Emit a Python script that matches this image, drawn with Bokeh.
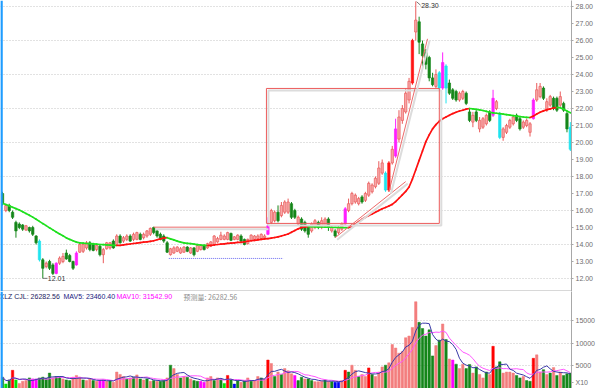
import pandas as pd
from bokeh.plotting import figure
from bokeh.layouts import column
from bokeh.models import Range1d, FixedTicker, PrintfTickFormatter, Span, ColumnDataSource
from bokeh.core.properties import value
from bokeh.embed import file_html
from bokeh.resources import INLINE

# ---------------- data ----------------
opens = [17.0, 16.0, 16.3, 15.9, 15.3, 15.2, 15.15, 14.85, 15.0, 15.0,
         14.5, 14.2, 13.1, 12.7, 13.0, 12.8, 12.3, 12.9, 13.0, 13.5,
         13.35, 13.0, 12.8, 13.55, 13.6, 13.8, 14.1, 14.0, 13.7, 13.9,
         13.4, 13.75, 13.8, 14.2, 14.0, 14.5, 14.2, 14.3, 14.5, 14.3,
         14.3, 14.6, 14.4, 14.5, 14.6, 15.0, 14.8, 14.6, 14.5, 14.1,
         13.4, 13.5, 13.6, 13.5, 13.55, 13.85, 13.5, 13.8, 13.6, 13.7,
         13.95, 13.8, 13.9, 14.0, 14.15, 14.3, 14.3, 14.3, 14.65, 14.3,
         14.3, 14.5, 14.3, 14.05, 14.25, 14.3, 14.35, 14.35, 14.4, 14.6,
         15.3, 15.4, 15.9, 15.7, 15.9, 15.9, 16.4, 16.0, 15.2, 15.5,
         15.3, 15.1, 14.8, 15.0, 15.3, 15.0, 15.1, 15.5, 14.8, 14.8,
         14.7, 14.9, 15.2, 16.0, 16.4, 16.5, 16.4, 16.8, 16.6, 16.9,
         17.1, 17.4, 17.6, 18.2, 18.2, 17.2, 18.8, 19.2, 20.2, 21.3,
         21.8, 22.5, 23.5, 26.5, 27.1, 25.8, 25.3, 25.0, 23.8, 23.3,
         24.1, 23.2, 24.5, 23.5, 23.1, 23.0, 22.5, 22.6, 22.9, 21.8,
         21.2, 21.8, 20.8, 20.9, 21.1, 21.8, 21.6, 22.0, 21.7, 20.3,
         20.6, 20.9, 21.1, 21.6, 21.4, 20.9, 21.0, 20.6, 21.4, 22.5,
         22.7, 23.2, 21.9, 22.2, 22.6, 22.6, 22.2, 22.3, 21.7, 20.9]
highs = [17.1, 16.4, 16.4, 16.0, 15.4, 15.3, 15.2, 15.15, 15.05, 15.1,
         14.55, 14.3, 13.2, 13.0, 13.1, 12.9, 12.95, 13.3, 13.5, 13.7,
         13.45, 13.05, 13.6, 14.1, 14.1, 14.2, 14.2, 14.1, 14.0, 14.0,
         13.8, 14.15, 14.15, 14.3, 14.6, 14.6, 14.5, 14.6, 14.6, 14.7,
         14.75, 14.7, 14.7, 14.85, 15.0, 15.05, 14.9, 14.7, 14.6, 14.2,
         13.8, 13.9, 13.9, 13.85, 13.9, 13.9, 13.85, 13.85, 14.0, 14.0,
         14.0, 14.1, 14.2, 14.55, 14.45, 14.75, 14.6, 14.75, 14.7, 14.5,
         14.6, 14.6, 14.35, 14.35, 14.6, 14.55, 14.6, 14.65, 14.6, 15.6,
         16.1, 16.0, 16.3, 16.5, 16.6, 16.7, 16.5, 16.1, 15.7, 15.6,
         15.4, 15.15, 15.3, 15.5, 15.4, 15.6, 15.6, 15.6, 15.1, 14.9,
         15.1, 15.3, 16.2, 16.7, 17.1, 17.0, 16.8, 16.9, 17.1, 17.7,
         17.6, 18.0, 18.9, 19.0, 18.3, 18.9, 19.8, 21.4, 21.9, 22.2,
         23.2, 23.8, 26.1, 28.3, 27.4, 26.0, 25.5, 25.1, 24.1, 24.3,
         24.2, 25.3, 24.6, 23.7, 23.2, 23.1, 23.0, 23.1, 23.0, 22.0,
         21.8, 21.9, 21.5, 21.5, 21.7, 21.9, 23.1, 22.5, 21.8, 20.9,
         21.1, 21.4, 21.6, 21.7, 21.5, 21.3, 21.4, 21.2, 22.6, 23.5,
         23.5, 23.3, 22.6, 22.8, 22.7, 22.7, 23.0, 22.4, 21.8, 21.2]
lows = [16.3, 15.9, 15.9, 15.5, 14.4, 14.9, 14.8, 14.8, 14.7, 14.5,
        14.0, 13.0, 12.01, 12.6, 12.5, 12.2, 12.25, 12.8, 12.9, 13.1,
        12.95, 12.5, 12.75, 13.5, 13.5, 13.7, 13.6, 13.6, 13.6, 13.3,
        12.9, 13.7, 13.7, 13.75, 13.95, 14.05, 14.1, 14.2, 14.15, 14.2,
        14.25, 14.25, 14.3, 14.4, 14.5, 14.6, 14.4, 14.25, 14.1, 13.5,
        13.35, 13.45, 13.55, 13.45, 13.5, 13.55, 13.45, 13.3, 13.55, 13.65,
        13.65, 13.75, 13.85, 13.95, 14.1, 14.25, 14.25, 14.25, 14.2, 14.25,
        14.25, 14.15, 13.95, 14.0, 14.2, 14.25, 14.3, 14.3, 14.35, 14.55,
        15.2, 15.3, 15.3, 15.6, 15.8, 15.8, 15.5, 15.5, 15.1, 14.8,
        14.7, 14.4, 14.7, 14.9, 14.9, 14.9, 15.0, 14.8, 14.7, 14.4,
        14.6, 14.8, 15.15, 15.9, 16.3, 16.4, 16.3, 16.4, 16.5, 16.8,
        17.0, 17.3, 17.5, 18.1, 17.1, 17.1, 18.7, 19.1, 20.0, 21.1,
        21.7, 22.3, 23.4, 26.0, 25.2, 24.3, 24.3, 23.6, 23.3, 23.2,
        23.1, 23.1, 22.3, 22.8, 22.5, 22.4, 22.4, 22.5, 22.2, 21.2,
        20.9, 21.2, 20.6, 20.8, 21.0, 21.2, 21.5, 21.9, 20.2, 20.1,
        20.5, 20.8, 21.0, 21.2, 20.7, 20.8, 20.9, 20.35, 21.35, 22.4,
        22.6, 22.5, 21.8, 22.1, 21.9, 21.8, 22.1, 21.8, 20.6, 19.5]
closes = [16.4, 16.3, 16.0, 15.6, 14.8, 15.0, 14.9, 15.1, 14.8, 14.6,
          14.1, 13.1, 12.6, 12.9, 12.6, 12.3, 12.9, 13.2, 13.3, 13.15,
          13.0, 12.6, 13.5, 14.0, 14.0, 14.1, 13.7, 13.65, 13.95, 13.4,
          13.7, 14.1, 14.1, 13.8, 14.5, 14.1, 14.4, 14.5, 14.2, 14.6,
          14.7, 14.3, 14.6, 14.8, 14.95, 14.7, 14.5, 14.3, 14.2, 13.55,
          13.75, 13.8, 13.85, 13.75, 13.85, 13.6, 13.8, 13.4, 13.95, 13.95,
          13.7, 14.05, 14.15, 14.5, 14.35, 14.55, 14.5, 14.7, 14.25, 14.45,
          14.55, 14.2, 14.0, 14.3, 14.55, 14.5, 14.5, 14.6, 14.5, 15.1,
          16.0, 15.9, 15.4, 16.3, 16.5, 16.5, 15.6, 15.6, 15.6, 14.9,
          14.8, 14.6, 15.2, 15.4, 15.0, 15.4, 15.5, 15.0, 15.0, 14.5,
          15.0, 15.2, 16.1, 16.4, 17.0, 16.9, 16.7, 16.5, 17.0, 17.6,
          17.5, 17.9, 18.5, 18.8, 17.2, 18.8, 19.6, 20.8, 21.5, 22.0,
          22.9, 23.6, 26.0, 27.2, 25.9, 25.1, 24.6, 23.8, 23.4, 24.0,
          23.2, 24.7, 23.2, 22.9, 22.6, 22.5, 22.9, 23.0, 22.3, 21.3,
          21.6, 21.3, 21.3, 21.4, 21.6, 21.3, 22.6, 22.4, 20.3, 20.8,
          21.0, 21.3, 21.5, 21.3, 20.8, 21.2, 21.3, 21.1, 22.5, 23.1,
          23.3, 22.6, 22.4, 22.7, 22.0, 21.9, 22.7, 21.9, 20.8, 19.6]
# candle colour class: u = up, d = down, m = magenta, c = cyan, r = solid red
candle_kind = list(
    "dudddddudd" "dcduddmuud" "ddmuuuddud" "uuududuudu" "uduuuddddd"
    "uuuuududuu" "duuuuuuudu" "udduuuuuum" "uuduuuddud" "dduuduudud"
    "uumuuuuduu" "uuuucrumuu" "uurudddddu" "cmcddduudd" "uduuudmucu"
    "uuudduuumu" "uduudduddc")
ma_line = [16.42, 16.35, 16.27, 16.19, 16.11, 16.03, 15.93, 15.82, 15.72, 15.61,
           15.49, 15.36, 15.23, 15.11, 14.98, 14.86, 14.74, 14.62, 14.51, 14.39,
           14.30, 14.22, 14.14, 14.10, 14.08, 14.06, 14.05, 14.04, 14.02, 14.00,
           13.99, 13.98, 13.96, 13.95, 13.94, 13.95, 13.98, 14.01, 14.03, 14.06,
           14.08, 14.11, 14.14, 14.16, 14.18, 14.22, 14.28, 14.33, 14.38, 14.40,
           14.33, 14.27, 14.20, 14.14, 14.10, 14.07, 14.05, 14.02, 13.99, 13.97,
           13.95, 13.94, 13.95, 13.97, 14.00, 14.02, 14.04, 14.07, 14.08, 14.10,
           14.12, 14.13, 14.16, 14.19, 14.22, 14.24, 14.27, 14.30, 14.33, 14.35,
           14.38, 14.41, 14.45, 14.50, 14.56, 14.62, 14.72, 14.82, 14.92, 15.00,
           15.04, 15.05, 15.045, 15.04, 15.035, 15.03, 15.025, 15.02, 15.015, 15.01,
           15.005, 15.00, 14.995, 14.99, 15.08, 15.20, 15.34, 15.48, 15.60, 15.70,
           15.80, 15.90, 16.00, 16.10, 16.18, 16.26, 16.36, 16.52, 16.72, 16.92,
           17.12, 17.38, 17.85, 18.40, 18.95, 19.50, 20.05, 20.45, 20.80, 21.05,
           21.25, 21.40, 21.50, 21.60, 21.70, 21.78, 21.85, 21.90, 21.96, 22.00,
           21.98, 21.95, 21.92, 21.88, 21.83, 21.78, 21.74, 21.72, 21.70, 21.67,
           21.64, 21.61, 21.58, 21.55, 21.52, 21.50, 21.48, 21.47, 21.55, 21.68,
           21.78, 21.86, 21.93, 21.98, 22.03, 22.06, 22.05, 21.95, 21.85, 21.75]
volumes = [2500, 1000, 1890, 4010, 1890, 1130, 1590, 1740, 2340, 2120,
           2120, 2340, 2500, 2200, 3400, 2340, 2650, 2650, 2120, 1890,
           1740, 2500, 2880, 2500, 1890, 1740, 2120, 1740, 1590, 1740,
           1890, 1590, 1740, 1360, 3630, 3100, 2650, 2120, 2340, 2500,
           3000, 2120, 1890, 2120, 1590, 1740, 1590, 1590, 1740, 2340,
           5145, 4390, 3100, 2340, 2650, 2500, 2120, 1740, 1590, 1590,
           1360, 2340, 2650, 1740, 2340, 2120, 1130, 2880, 1890, 980,
           1740, 1360, 1740, 2340, 1590, 1740, 2650, 2340, 2120, 6280,
           5520, 2650, 3630, 3100, 4400, 3900, 3250,
           2880, 1740, 2500, 2120, 2120, 1740, 1510, 1510, 1590, 1890,
           1590, 1510, 1360, 1360, 1740, 4010, 3630, 5145, 4010, 2650,
           3100, 2650, 4540, 3100, 2650, 3630, 4770, 5145, 5670, 9700,
           8930, 7790, 8170, 11200, 11580, 13470, 19140, 14600, 13240, 11580,
           12940, 7190, 9460, 10670, 14230, 10820, 6510, 6280, 5370, 4390,
           5370, 4390, 5300, 3400, 4770, 3100, 2340, 3630, 3100, 9310,
           4770, 5900, 3400, 3630, 3630, 3400, 2880, 2340, 2650, 1740,
           1590, 6660, 7420, 3630, 4160, 3100, 3400, 4620, 2880, 3630,
           2880, 3250, 3400]
# volume bar colour class: u up, d down, r red, m magenta, l lime, b blue
volume_kind = list(
    "dldrluuudm" "mdddduddud" "duuuduudum" "muduuuudud" "ududududdu"
    "duudududdm" "muududlrdb" "dududuudur" "ududuuu"
    "mddudduuud" "udbburduud" "uurduuuduu" "uuuuuuuddd" "ddududumdu"
    "udduduudur" "dduuuuddud" "druudududu" "ddd")

price_ticks = [12, 13, 14, 15, 16, 17, 18, 19, 20, 21, 22, 23, 24, 25, 26, 27, 28]
price_grid = [12, 14, 16, 18, 20, 22, 24, 26, 28]
volume_ticks = [5000, 10000, 15000]
unit_tick = 1300          # where the "X10" unit tag sits on the volume axis

# drawings on the chart (candle index, price)
box_left, box_right, box_top, box_bottom = 78.55, 130.0, 23.18, 15.24
level_line = ([45.0, 78.55], [15.02, 15.02])
blue_line = ([49.5, 83.5], [13.18, 13.18])
trend_a = ([99.0, 120.0], [14.40, 17.70])
trend_b = ([115.0, 126.5], [17.10, 26.10])
high_mark = (123, 28.30, "28.30")
low_mark = (12, 12.01, "12.01")

legend_parts = [("XLZ CJL: 26282.56", "#22225e"), ("MAV5: 23460.40", "#1a1a80"),
                ("MAV10: 31542.90", "#ff00ff"), ("预测量: 26282.56", "#8c8c8c")]

n = len(closes)
assert len(opens) == len(highs) == len(lows) == n == len(ma_line) == len(candle_kind)
assert len(volumes) == len(volume_kind) == n

# ---------------- styling ----------------
CANDLE_STYLE = {
    "u": ("#f7a7a7", "#ea5a5a"),
    "d": ("#15861a", "#15861a"),
    "m": ("#ff1eff", "#ff1eff"),
    "c": ("#1fe4ee", "#1fe4ee"),
    "r": ("#ff1414", "#ff1414"),
}
VOL_STYLE = {"u": "#f37d7d", "d": "#15861a", "r": "#ff0000", "m": "#ff00ff",
             "l": "#00e600", "b": "#0000ee"}
FONT = "Liberation Sans"
AXIS_TXT = "#6e6e6e"
AXIS_LINE = "#a8a8a8"

xs = list(range(n))
px_per_bar = 3.36
x_start = -2 / px_per_bar
x_end = (571 - 2) / px_per_bar
price_lo = 28 - (291 - 6) / 17.0
price_hi = 28 + 6 / 17.0

tops = [max(o, c) for o, c in zip(opens, closes)]
bots = [min(o, c) for o, c in zip(opens, closes)]
tops = [t if t - b >= 0.04 else b + 0.04 for t, b in zip(tops, bots)]
csrc = ColumnDataSource(dict(
    x=xs, h=highs, l=lows, top=tops, bot=bots,
    fill=[CANDLE_STYLE[k][0] for k in candle_kind],
    line=[CANDLE_STYLE[k][1] for k in candle_kind]))


def style_axis(axis, ticks, fmt):
    axis.ticker = FixedTicker(ticks=ticks)
    axis.formatter = PrintfTickFormatter(format=fmt)
    axis.major_label_text_font = FONT
    axis.major_label_text_font_size = "7px"
    axis.major_label_text_color = AXIS_TXT
    axis.axis_line_color = AXIS_LINE
    axis.major_tick_line_color = AXIS_LINE
    axis.major_tick_in = 0
    axis.major_tick_out = 2
    axis.minor_tick_line_color = None
    axis.major_label_standoff = 2


p1 = figure(width=600, height=291, x_range=Range1d(x_start, x_end),
            y_range=Range1d(price_lo, price_hi), output_backend="svg",
            toolbar_location=None, x_axis_location=None, y_axis_location="right",
            min_border_left=0, min_border_right=29, min_border_top=0, min_border_bottom=0)
p1.outline_line_color = None
p1.xgrid.visible = False
p1.ygrid.ticker = FixedTicker(ticks=price_grid)
p1.ygrid.grid_line_color = "#c4c4c4"
p1.ygrid.grid_line_dash = "1 2"
style_axis(p1.yaxis[0], price_ticks, "%.2f")

# candles
p1.segment(x0="x", y0="l", x1="x", y1="h", color="line", line_width=1, source=csrc)
p1.vbar(x="x", width=0.7, top="top", bottom="bot", fill_color="fill",
        line_color="line", line_width=0.7, source=csrc)

# slope-coloured moving average
ma_src = ColumnDataSource(dict(
    x0=xs[:-1], x1=xs[1:], y0=ma_line[:-1], y1=ma_line[1:],
    color=["#ff1010" if b >= a else "#1ee01e" for a, b in zip(ma_line[:-1], ma_line[1:])]))
p1.segment(x0="x0", y0="y0", x1="x1", y1="y1", color="color", line_width=1.7,
           line_cap="round", source=ma_src)

# drawings with soft shadows
dx, dy = 0.6, 0.12
p1.quad(left=[box_left + dx], right=[box_right + dx], top=[box_top - dy], bottom=[box_bottom - dy],
        fill_alpha=0, line_color="#dcdcdc", line_width=2)
p1.quad(left=[box_left], right=[box_right], top=[box_top], bottom=[box_bottom],
        fill_alpha=0, line_color="#ec5b5b", line_width=1)
for (lx, ly) in (level_line, trend_a, trend_b):
    p1.line([v + dx for v in lx], [v - dy for v in ly], line_color="#dcdcdc", line_width=2)
    p1.line(lx, ly, line_color="#ec6a6a", line_width=1)
p1.line(blue_line[0], blue_line[1], line_color="#6a6af0", line_width=1, line_dash="1 1")

# extreme marks
hx, hy, htxt = high_mark
p1.segment(x0=[hx + 0.25], y0=[hy - 0.02], x1=[hx + 1.4], y1=[hy - 0.22],
           line_color="#555555", line_width=0.8)
p1.text(x=[hx + 1.6], y=[hy - 0.25], text=[htxt], text_font=value(FONT),
        text_font_size="7px", text_color="#333333", text_baseline="middle")
lx_, ly_, ltxt = low_mark
p1.segment(x0=[lx_], y0=[ly_], x1=[lx_ + 1.4], y1=[ly_], line_color="#555555", line_width=0.8)
p1.text(x=[lx_ + 1.5], y=[ly_], text=[ltxt], text_font=value(FONT),
        text_font_size="7px", text_color="#333333", text_baseline="middle")

p1.add_layout(Span(location=price_lo + 0.03, dimension="width", line_color="#b4b4b4", line_width=1))
p1.add_layout(Span(location=x_start + 0.3, dimension="height", line_color="#1e9cff", line_width=2.5))

# ---------------- volume panel ----------------
vol_top = 21400
vs = pd.Series(volumes, dtype=float)
mav5 = vs.rolling(5, min_periods=1).mean().tolist()
mav10 = vs.rolling(10, min_periods=1).mean().tolist()
vsrc = ColumnDataSource(dict(x=xs, v=volumes, c=[VOL_STYLE[k] for k in volume_kind]))

p2 = figure(width=600, height=97, x_range=p1.x_range, y_range=Range1d(0, vol_top),
            output_backend="svg", toolbar_location=None, x_axis_location=None,
            y_axis_location="right", min_border_left=0, min_border_right=29,
            min_border_top=0, min_border_bottom=0)
p2.outline_line_color = None
p2.xgrid.visible = False
p2.ygrid.ticker = FixedTicker(ticks=volume_ticks)
p2.ygrid.grid_line_color = "#c4c4c4"
p2.ygrid.grid_line_dash = "1 2"
style_axis(p2.yaxis[0], volume_ticks + [unit_tick], "%d")
p2.yaxis[0].major_label_overrides = {unit_tick: "X10"}

p2.vbar(x="x", width=0.72, top="v", bottom=0, fill_color="c", line_color="c",
        line_width=0.5, source=vsrc)
p2.line(xs, mav10, line_color="#ff55ff", line_width=1)
p2.line(xs, mav5, line_color="#3a3aa8", line_width=1)

legend_x_px = [-1, 63, 116, 183]
for (txt, col), xp in zip(legend_parts, legend_x_px):
    fnt = "Noto Sans CJK SC" if not txt.isascii() else FONT
    p2.text(x=[(xp - 2) / px_per_bar], y=[vol_top * (1 - 5.0 / 97)], text=[txt],
            text_font=value(fnt), text_font_size="7px", text_color=col,
            text_baseline="middle")

p2.add_layout(Span(location=x_start + 0.3, dimension="height", line_color="#1e9cff", line_width=2.5))

layout = column(p1, p2, spacing=0)
TEMPLATE = """{% block preamble %}<style>html, body { margin: 0 !important; padding: 0 !important; }</style>{% endblock %}"""
open("out.html", "w").write(file_html(layout, INLINE, template=TEMPLATE))
